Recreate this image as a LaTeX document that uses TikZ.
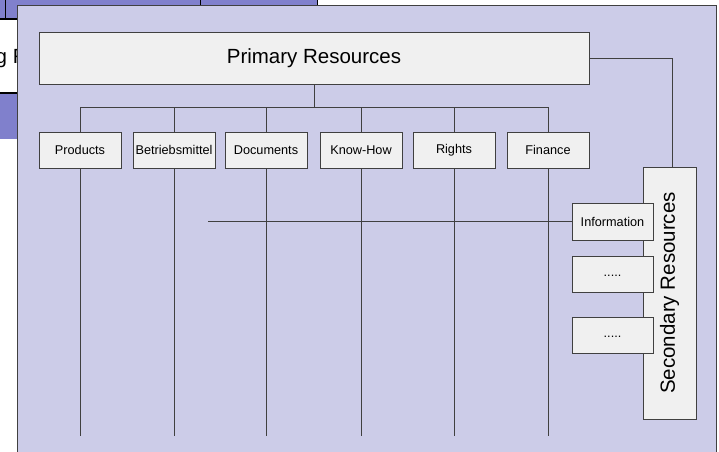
\documentclass[tikz,border=0pt]{standalone}
\usepackage{fontspec}
\setmainfont{Liberation Sans}
\definecolor{winblue}{RGB}{128,128,204}
\definecolor{lav}{RGB}{204,204,232}
\definecolor{boxfill}{RGB}{240,240,240}
\definecolor{edge}{RGB}{64,64,64}
\pgfdeclarelayer{back}
\pgfdeclarelayer{lines}
\pgfsetlayers{back,lines,main}
\begin{document}
\begin{tikzpicture}[x=1pt,y=-1pt,
  box/.style={draw=edge,line width=0.8pt,fill=boxfill,inner sep=0pt,
    minimum width=82pt,minimum height=36pt,font=\fontsize{12.7}{15}\selectfont},
  bigbox/.style={box,font=\fontsize{20.5}{24}\selectfont},
  conn/.style={draw=edge,line width=0.8pt}]
\useasboundingbox (0,0) rectangle (719,451);
\begin{pgfonlayer}{back}
\begin{scope}
\clip (0,0) rectangle (719,451);
% window behind
\fill[winblue] (-2,-2) rectangle (317,19);
\draw[black,line width=0.8pt] (317,-2) -- (317,19);
\draw[black,line width=0.8pt] (5,-2) -- (5,19);
\draw[black,line width=0.8pt] (200,-2) -- (200,19);
\fill[white] (-2,19) rectangle (17,93);
\draw[black,line width=1.6pt] (-2,19) -- (317,19);
\draw[black,line width=1.6pt] (-2,93) -- (17,93);
\fill[winblue] (-2,93.8) rectangle (17,139);
\node[anchor=base west,inner sep=0pt,font=\fontsize{20.5}{24}\selectfont] (gr) at (-4.5,63) {g R};
% main frame
\draw[fill=lav,draw=edge,line width=1pt] (17,5) rectangle (716,460);
\end{scope}
\end{pgfonlayer}

% nodes
\node[bigbox,minimum width=550pt,minimum height=52pt] (prim) at (314,58) {Primary Resources};
\node[box] (prod) at (80,150) {Products};
\node[box] (betr) at (174,150) {Betriebsmittel};
\node[box] (docs) at (266,150) {Documents};
\node[box] (know) at (361,150) {Know-How};
\node[box] (rights) at (454,150) {Rights};
\node[box] (fin) at (548,150) {Finance};
\node[box,minimum width=53pt,minimum height=252pt,font=\fontsize{20.5}{24}\selectfont] (sec) at (669.5,293) {\rotatebox{90}{Secondary Resources}};
\node[box,minimum width=81pt,minimum height=37pt] (info) at (612.5,221.5) {Information};
\node[box,minimum width=81pt,minimum height=36pt] (dots1) at (612.5,274) {\raisebox{-2.5pt}[0pt][0pt]{.....}};
\node[box,minimum width=81pt,minimum height=36pt] (dots2) at (612.5,335) {\raisebox{-2.5pt}[0pt][0pt]{.....}};

\coordinate (bus) at (0,107);
\coordinate (bottom) at (0,436);
\coordinate (hstart) at (208,221.5);

\begin{pgfonlayer}{lines}
\draw[conn] (prim.south) -- (prim.south |- bus);
\draw[conn] (prod.north) -- (prod.north |- bus) -- (fin.north |- bus) -- (fin.north);
\foreach \n in {betr,docs,know,rights}
  \draw[conn] (\n.north) -- (\n.north |- bus);
\foreach \n in {prod,betr,docs,know,rights,fin}
  \draw[conn] (\n.south) -- (\n.south |- bottom);
\draw[conn] (hstart) -- (info.west);
\draw[conn] (prim.east) -| ([xshift=3pt]sec.north);
\end{pgfonlayer}
\end{tikzpicture}
\end{document}
